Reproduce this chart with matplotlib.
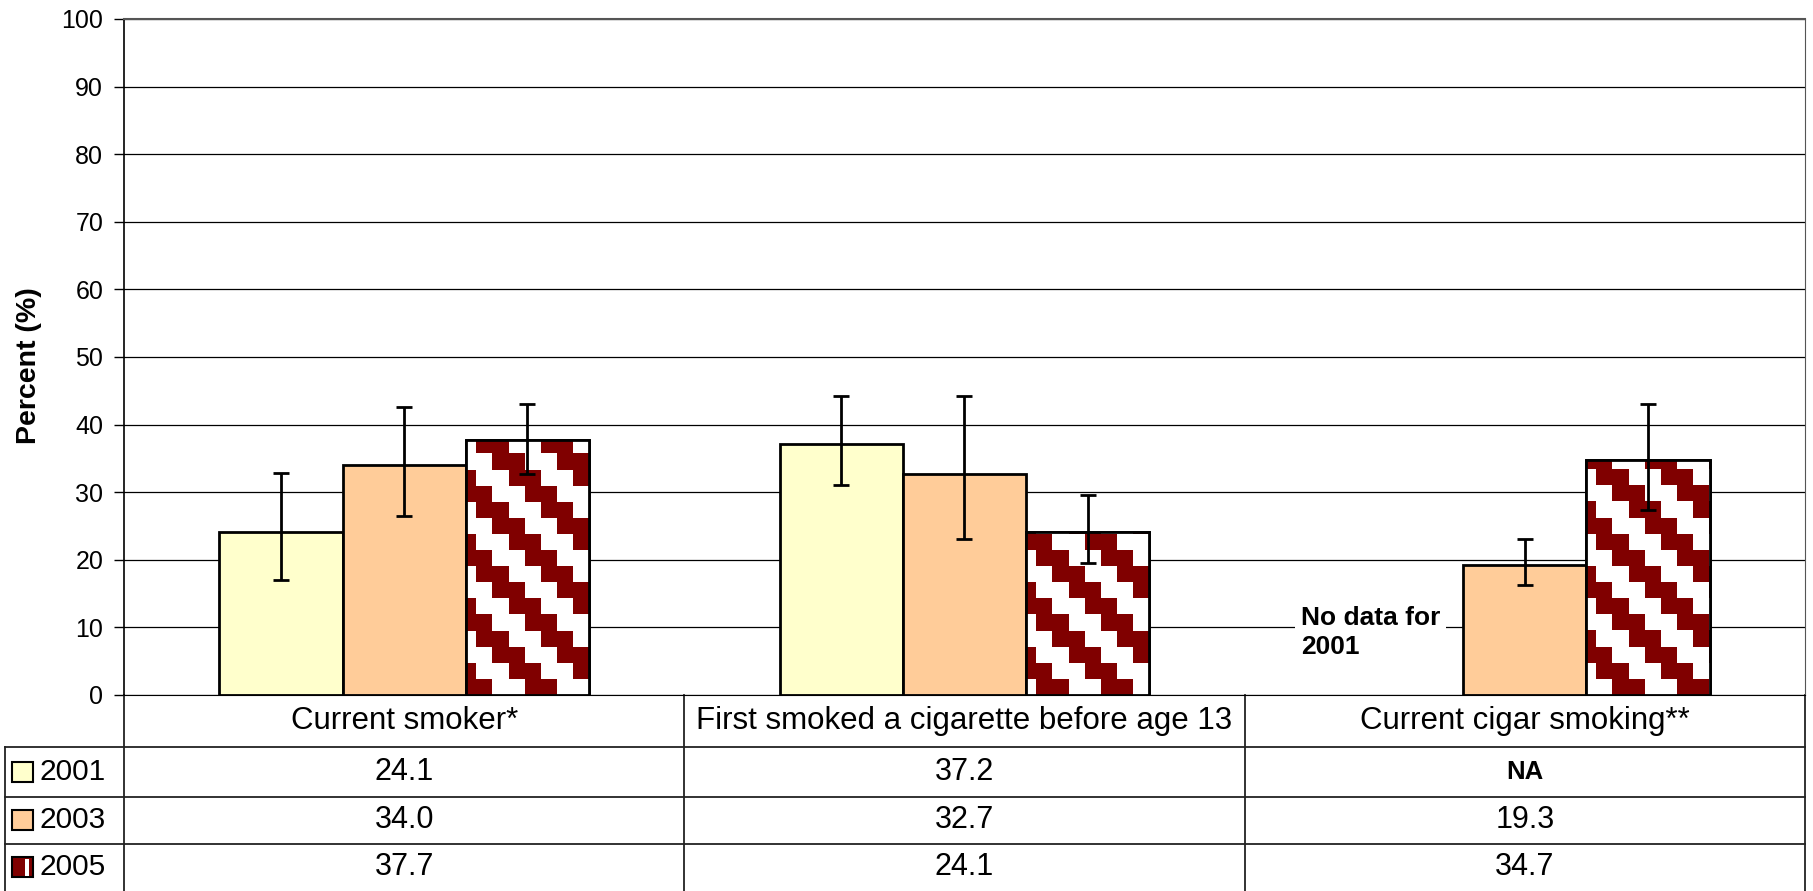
import numpy as np
import matplotlib
matplotlib.use('Agg')
import matplotlib.pyplot as plt
from matplotlib.colors import ListedColormap
from matplotlib.patches import Rectangle
from matplotlib.transforms import blended_transform_factory

plt.rcParams['font.family'] = ['Liberation Sans', 'DejaVu Sans']

categories = ['Current smoker*', 'First smoked a cigarette before age 13', 'Current cigar smoking**']
years = ['2001', '2003', '2005']
vals_2001 = [24.1, 37.2, np.nan]
vals_2003 = [34.0, 32.7, 19.3]
vals_2005 = [37.7, 24.1, 34.7]
low_2001 = [17.0, 31.0, np.nan]
high_2001 = [32.9, 44.2, np.nan]
low_2003 = [26.5, 23.1, 16.3]
high_2003 = [42.6, 44.3, 23.1]
low_2005 = [32.7, 19.5, 27.4]
high_2005 = [43.1, 29.6, 43.1]
table_text = [['24.1', '37.2', 'NA'],
              ['34.0', '32.7', '19.3'],
              ['37.7', '24.1', '34.7']]

c2001 = '#FFFFCC'
c2003 = '#FFCC99'
c2005 = '#800000'

fig = plt.figure(figsize=(18.13, 8.91), dpi=100)
ax = fig.add_axes([124 / 1813, 196 / 891, 1681 / 1813, 676 / 891])

x = np.arange(len(categories))
w = 0.22
series = [(vals_2001, low_2001, high_2001, c2001),
          (vals_2003, low_2003, high_2003, c2003),
          (vals_2005, low_2005, high_2005, 'white')]

# staircase texture for the 2005 bars
nr, nc = 42, 105
rr, cc = np.mgrid[0:nr, 0:nc]
texture = (((cc - rr) % 4) < 2).astype(float)
tex_cmap = ListedColormap(['white', c2005])

for i, (vals, lo, hi, col) in enumerate(series):
    v = np.array(vals)
    ok = ~np.isnan(v)
    xs = (x + (i - 1) * w)[ok]
    bars = ax.bar(xs, v[ok], w, color=col, edgecolor='black', linewidth=2, zorder=2)
    if i == 2:
        for b in bars:
            im = ax.imshow(texture, extent=(-0.5, 2.5, 0, 100), aspect='auto',
                           interpolation='nearest', cmap=tex_cmap, zorder=2.5)
            im.set_clip_path(b)
            ax.add_patch(Rectangle(b.get_xy(), b.get_width(), b.get_height(),
                                   fill=False, edgecolor='black', linewidth=2, zorder=3))
    yerr = [v[ok] - np.array(lo)[ok], np.array(hi)[ok] - v[ok]]
    ax.errorbar(xs, v[ok], yerr=yerr, fmt='none', ecolor='black', elinewidth=2,
                capsize=6, capthick=2, zorder=4)

ax.set_xlim(-0.5, 2.5)
ax.set_ylim(0, 100)
ax.set_yticks(range(0, 101, 10))
ax.set_xticks([])
ax.yaxis.grid(True, color='black', linewidth=0.9)
ax.set_axisbelow(True)
ax.tick_params(axis='y', labelsize=18, length=7, width=1, pad=8)
for s in ['top', 'right']:
    ax.spines[s].set_color('#555555')
ax.spines['top'].set_linewidth(1.5)
ax.spines['left'].set_linewidth(1.2)
ax.set_ylabel('Percent (%)', fontsize=20.5, fontweight='bold')
ax.yaxis.set_label_coords(-0.049, 0.487)

ax.text(1.6, 9.25, 'No data for\n2001', fontsize=19, fontweight='bold', ha='left', va='center',
        linespacing=1.3, zorder=5,
        bbox=dict(facecolor='white', edgecolor='none', pad=4))

# data table below the axes
tr = blended_transform_factory(ax.transData, ax.transAxes)
rows_y = [0, -0.0769, -0.1509, -0.2204, -0.2899]
left_x = -0.5 - 119 / 560.3
lc = '#222222'
for yy in rows_y[1:4]:
    ax.plot([left_x, 2.5], [yy, yy], color=lc, lw=1.3, transform=tr, clip_on=False)
for xx in [-0.5, 0.5, 1.5, 2.5]:
    ax.plot([xx, xx], [0, rows_y[-1]], color=lc, lw=1.3, transform=tr, clip_on=False)
ax.plot([left_x, left_x], [rows_y[1], rows_y[-1]], color=lc, lw=1.3, transform=tr, clip_on=False)

for j, cat in enumerate(categories):
    ax.text(j, (rows_y[0] + rows_y[1]) / 2, cat, fontsize=22.5, ha='center', va='center', transform=tr)

sw_x0 = -0.5 - 112 / 560.3
sw_w = 21 / 560.3
sw_h = 20 / 676
for r in range(3):
    yc = (rows_y[r + 1] + rows_y[r + 2]) / 2
    if r < 2:
        ax.add_patch(Rectangle((sw_x0, yc - sw_h / 2), sw_w, sw_h, facecolor=[c2001, c2003][r],
                               edgecolor='black', lw=1.5, transform=tr, clip_on=False))
    else:
        ax.add_patch(Rectangle((sw_x0, yc - sw_h / 2), sw_w, sw_h, facecolor=c2005,
                               edgecolor='black', lw=1.5, transform=tr, clip_on=False))
        ax.add_patch(Rectangle((sw_x0 + sw_w * 0.62, yc - sw_h / 2 + 0.002), sw_w * 0.2, sw_h - 0.004,
                               facecolor='white', edgecolor='none', transform=tr, clip_on=False))
    ax.text(-0.5 - 84 / 560.3, yc, years[r], fontsize=21.5, ha='left', va='center', transform=tr)
    for j in range(3):
        t = table_text[r][j]
        ax.text(j, yc, t, fontsize=18.5 if t == 'NA' else 22,
                fontweight='bold' if t == 'NA' else 'normal',
                ha='center', va='center', transform=tr)

fig.savefig('out.png', dpi=100)
